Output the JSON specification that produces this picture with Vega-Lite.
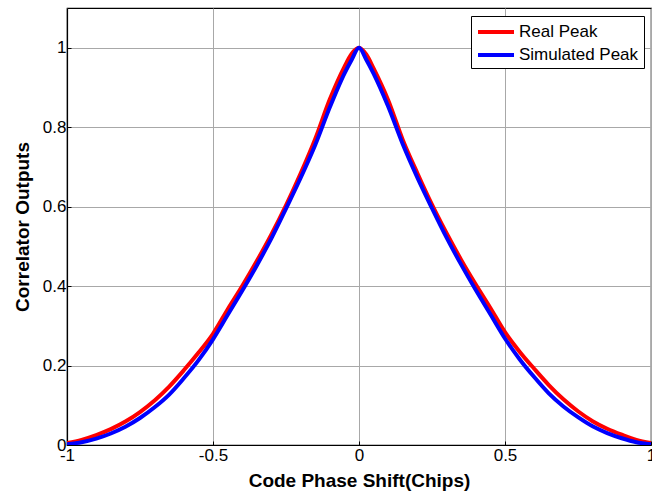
{
  "$schema": "https://vega.github.io/schema/vega-lite/v6.json",
  "autosize": "none",
  "width": 584,
  "height": 437,
  "padding": {"left": 67, "top": 8, "right": 1, "bottom": 53},
  "background": "white",
  "config": {
    "font": "Liberation Sans",
    "view": {"stroke": "black", "strokeWidth": 1.2},
    "axis": {
      "domainColor": "black",
      "domainWidth": 1.2,
      "tickColor": "black",
      "tickSize": -4,
      "labelFlush": false,
      "labelFont": "Liberation Sans",
      "labelFontSize": 17,
      "labelColor": "black",
      "titleFont": "Liberation Sans",
      "titleFontSize": 19,
      "titleFontWeight": "bold",
      "titleColor": "black",
      "gridColor": "#a8a8a8",
      "gridWidth": 1,
      "gridOpacity": 1
    }
  },
  "data": {
    "values": [
      {"x": -1.0, "Real Peak": 0.005, "Simulated Peak": 0.002},
      {"x": -0.95, "Real Peak": 0.013, "Simulated Peak": 0.007},
      {"x": -0.9, "Real Peak": 0.025, "Simulated Peak": 0.016},
      {"x": -0.85, "Real Peak": 0.04, "Simulated Peak": 0.029},
      {"x": -0.8, "Real Peak": 0.059, "Simulated Peak": 0.046},
      {"x": -0.75, "Real Peak": 0.083, "Simulated Peak": 0.068},
      {"x": -0.7, "Real Peak": 0.112, "Simulated Peak": 0.095},
      {"x": -0.65, "Real Peak": 0.147, "Simulated Peak": 0.127},
      {"x": -0.6, "Real Peak": 0.188, "Simulated Peak": 0.168},
      {"x": -0.55, "Real Peak": 0.232, "Simulated Peak": 0.213},
      {"x": -0.5, "Real Peak": 0.28, "Simulated Peak": 0.266},
      {"x": -0.45, "Real Peak": 0.341, "Simulated Peak": 0.327},
      {"x": -0.4, "Real Peak": 0.4, "Simulated Peak": 0.388},
      {"x": -0.35, "Real Peak": 0.463, "Simulated Peak": 0.452},
      {"x": -0.3, "Real Peak": 0.53, "Simulated Peak": 0.52},
      {"x": -0.25, "Real Peak": 0.603, "Simulated Peak": 0.595},
      {"x": -0.2, "Real Peak": 0.683, "Simulated Peak": 0.672},
      {"x": -0.15, "Real Peak": 0.77, "Simulated Peak": 0.755},
      {"x": -0.1, "Real Peak": 0.87, "Simulated Peak": 0.85},
      {"x": -0.05, "Real Peak": 0.952, "Simulated Peak": 0.935},
      {"x": -0.025, "Real Peak": 0.985, "Simulated Peak": 0.97},
      {"x": 0.0, "Real Peak": 1.0, "Simulated Peak": 1.0},
      {"x": 0.025, "Real Peak": 0.983, "Simulated Peak": 0.97},
      {"x": 0.05, "Real Peak": 0.948, "Simulated Peak": 0.935},
      {"x": 0.1, "Real Peak": 0.868, "Simulated Peak": 0.852},
      {"x": 0.15, "Real Peak": 0.768, "Simulated Peak": 0.757},
      {"x": 0.2, "Real Peak": 0.684, "Simulated Peak": 0.673},
      {"x": 0.25, "Real Peak": 0.605, "Simulated Peak": 0.596},
      {"x": 0.3, "Real Peak": 0.533, "Simulated Peak": 0.522},
      {"x": 0.35, "Real Peak": 0.466, "Simulated Peak": 0.454},
      {"x": 0.4, "Real Peak": 0.404, "Simulated Peak": 0.39},
      {"x": 0.45, "Real Peak": 0.345, "Simulated Peak": 0.329},
      {"x": 0.5, "Real Peak": 0.284, "Simulated Peak": 0.268},
      {"x": 0.55, "Real Peak": 0.235, "Simulated Peak": 0.216},
      {"x": 0.6, "Real Peak": 0.192, "Simulated Peak": 0.171},
      {"x": 0.65, "Real Peak": 0.151, "Simulated Peak": 0.13},
      {"x": 0.7, "Real Peak": 0.115, "Simulated Peak": 0.097},
      {"x": 0.75, "Real Peak": 0.085, "Simulated Peak": 0.07},
      {"x": 0.8, "Real Peak": 0.06, "Simulated Peak": 0.047},
      {"x": 0.85, "Real Peak": 0.041, "Simulated Peak": 0.03},
      {"x": 0.9, "Real Peak": 0.026, "Simulated Peak": 0.017},
      {"x": 0.95, "Real Peak": 0.013, "Simulated Peak": 0.007},
      {"x": 1.0, "Real Peak": 0.005, "Simulated Peak": 0.002}
    ]
  },
  "transform": [
    {"fold": ["Real Peak", "Simulated Peak"], "as": ["series", "value"]}
  ],
  "mark": {"type": "line", "strokeWidth": 4, "interpolate": "monotone", "clip": true},
  "encoding": {
    "x": {
      "field": "x",
      "type": "quantitative",
      "scale": {"domain": [-1, 1], "nice": false, "zero": false},
      "axis": {
        "title": "Code Phase Shift(Chips)",
        "values": [-1, -0.5, 0, 0.5, 1],
        "labelExpr": "'' + datum.value",
        "labelPadding": 6,
        "titleY": 41,
        "titleBaseline": "alphabetic"
      }
    },
    "y": {
      "field": "value",
      "type": "quantitative",
      "scale": {"domain": [0, 1.1], "nice": false},
      "axis": {
        "title": "Correlator Outputs",
        "values": [0, 0.2, 0.4, 0.6, 0.8, 1],
        "labelExpr": "'' + datum.value",
        "labelPadding": 5,
        "titleX": -39,
        "titleBaseline": "alphabetic"
      }
    },
    "color": {
      "field": "series",
      "type": "nominal",
      "scale": {"domain": ["Real Peak", "Simulated Peak"], "range": ["#ff0000", "#0000ff"]},
      "legend": {
        "title": null,
        "orient": "none",
        "legendX": 404,
        "legendY": 8,
        "symbolType": "M-1,0H3",
        "symbolSize": 324,
        "symbolStrokeWidth": 4,
        "symbolFillColor": "transparent",
        "labelFontSize": 17,
        "labelFont": "Liberation Sans",
        "labelColor": "black",
        "labelOffset": 21,
        "rowPadding": 4,
        "padding": 5,
        "strokeColor": "black",
        "fillColor": "white"
      }
    }
  }
}
